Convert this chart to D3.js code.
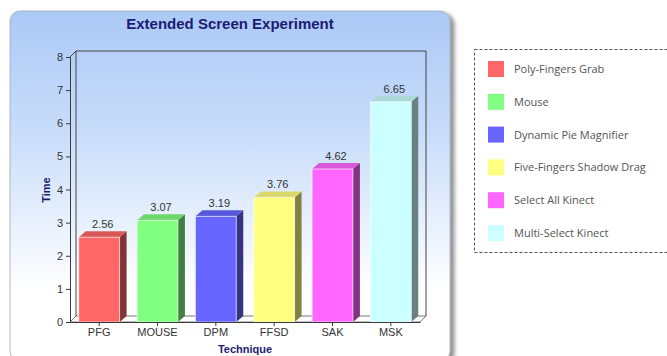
<!DOCTYPE html>
<html>
<head>
<meta charset="utf-8">
<script src="https://cdn.jsdelivr.net/npm/d3@7/dist/d3.min.js"></script>
<style>
  html, body { margin: 0; padding: 0; background: #fff; }
  svg { display: block; }
</style>
</head>
<body>
<svg id="chart" width="667" height="356"></svg>
<script>
// Chart data
const categories = ["PFG", "MOUSE", "DPM", "FFSD", "SAK", "MSK"];
const values = [2.56, 3.07, 3.19, 3.76, 4.62, 6.65];
const legendNames = ["Poly-Fingers Grab", "Mouse", "Dynamic Pie Magnifier",
                     "Five-Fingers Shadow Drag", "Select All Kinect", "Multi-Select Kinect"];
const frontColors = ["#ff6666", "#80ff80", "#6666ff", "#ffff80", "#ff66ff", "#ccffff"];
const yTicks = [0, 1, 2, 3, 4, 5, 6, 7, 8];

const svg = d3.select("#chart");
const defs = svg.append("defs");

// Panel background gradient and drop shadow
const grad = defs.append("linearGradient").attr("id", "panelGrad")
  .attr("x1", 0).attr("y1", 0).attr("x2", 0).attr("y2", 1);
grad.append("stop").attr("offset", "0%").attr("stop-color", "#abc9f6");
grad.append("stop").attr("offset", "35%").attr("stop-color", "#c9ddfa");
grad.append("stop").attr("offset", "80%").attr("stop-color", "#ffffff");
grad.append("stop").attr("offset", "100%").attr("stop-color", "#ffffff");

const shadow = defs.append("filter").attr("id", "shadow")
  .attr("x", "-5%").attr("y", "-5%").attr("width", "115%").attr("height", "115%");
shadow.append("feGaussianBlur").attr("in", "SourceAlpha").attr("stdDeviation", 2);
shadow.append("feOffset").attr("dx", 4).attr("dy", 3).attr("result", "off");
shadow.append("feComponentTransfer").append("feFuncA").attr("type", "linear").attr("slope", 0.45);
const merge = shadow.append("feMerge");
merge.append("feMergeNode");
merge.append("feMergeNode").attr("in", "SourceGraphic");

svg.append("rect")
  .attr("x", 10).attr("y", 11).attr("width", 440).attr("height", 350)
  .attr("rx", 10).attr("ry", 10)
  .attr("fill", "url(#panelGrad)")
  .attr("stroke", "#9fa9b8").attr("stroke-width", 0.8)
  .attr("filter", "url(#shadow)");

// Title
svg.append("text")
  .attr("x", 230).attr("y", 29)
  .attr("text-anchor", "middle")
  .attr("font-family", "Liberation Sans, Arial, sans-serif")
  .attr("font-size", 15).attr("font-weight", "bold")
  .attr("fill", "#1b1b72")
  .text("Extended Screen Experiment");

// Plot geometry (front plane) and 3D depth
const plotLeft = 70, plotRight = 420, plotBottom = 322, plotTop = 57;
const depthX = 6, depthY = -6;
const barDX = 7, barDY = -6;

const x = d3.scaleBand().domain(categories).range([plotLeft, plotRight]).paddingInner(0.3).paddingOuter(0.15);
const y = d3.scaleLinear().domain([0, 8]).range([plotBottom, plotTop]);

const g = svg.append("g");
const axisColor = "#3a3a3a";

// Floor
g.append("path")
  .attr("d", `M${plotLeft},${plotBottom} L${plotRight},${plotBottom} L${plotRight + depthX},${plotBottom + depthY} L${plotLeft + depthX},${plotBottom + depthY} Z`)
  .attr("fill", "#ffffff").attr("stroke", "#555").attr("stroke-width", 0.8);

// Back wall frame
g.append("path")
  .attr("d", `M${plotLeft + depthX},${plotBottom + depthY} L${plotLeft + depthX},${plotTop + depthY} L${plotRight + depthX},${plotTop + depthY} L${plotRight + depthX},${plotBottom + depthY}`)
  .attr("fill", "none").attr("stroke", "#444").attr("stroke-width", 1);
g.append("line")
  .attr("x1", plotLeft).attr("y1", plotTop).attr("x2", plotLeft + depthX).attr("y2", plotTop + depthY)
  .attr("stroke", "#444").attr("stroke-width", 1);

// Bars (front, side, top faces)
const bars = g.selectAll("g.bar").data(categories).enter().append("g").attr("class", "bar");
bars.each(function(c, i) {
  const sel = d3.select(this);
  const x0 = x(c), w = x.bandwidth(), y0 = y(values[i]), y1 = y(0);
  const base = d3.color(frontColors[i]);
  const side = base.darker(1.9);
  const topC = base.darker(0.45);
  sel.append("path")
    .attr("d", `M${x0 + w},${y1} L${x0 + w},${y0} L${x0 + w + barDX},${y0 + barDY} L${x0 + w + barDX},${y1 + barDY} Z`)
    .attr("fill", side);
  sel.append("path")
    .attr("d", `M${x0},${y0} L${x0 + barDX},${y0 + barDY} L${x0 + w + barDX},${y0 + barDY} L${x0 + w},${y0} Z`)
    .attr("fill", topC);
  sel.append("rect")
    .attr("x", x0).attr("y", y0).attr("width", w).attr("height", y1 - y0)
    .attr("fill", base).attr("stroke", "rgba(255,255,255,0.6)").attr("stroke-width", 1);
  sel.append("text")
    .attr("x", x0 + w / 2 + barDX / 2).attr("y", y0 + barDY - 3)
    .attr("text-anchor", "middle")
    .attr("font-family", "Liberation Sans, Arial, sans-serif")
    .attr("font-size", 11).attr("fill", "#333")
    .text(values[i].toFixed(2));
});

// Y axis
const yAxis = d3.axisLeft(y).tickValues(yTicks).tickSize(4).tickPadding(3).tickFormat(d3.format("d"));
const ya = g.append("g").attr("transform", `translate(${plotLeft},0)`).call(yAxis);
ya.select(".domain").attr("stroke", axisColor);
ya.selectAll(".tick line").attr("stroke", axisColor);
ya.selectAll(".tick text")
  .attr("font-family", "Liberation Sans, Arial, sans-serif")
  .attr("font-size", 11).attr("fill", "#333");

// X axis
const xAxis = d3.axisBottom(x).tickSize(4).tickPadding(2).tickSizeOuter(0);
const xa = g.append("g").attr("transform", `translate(0,${plotBottom})`).call(xAxis);
xa.select(".domain").attr("stroke", axisColor);
xa.selectAll(".tick line").attr("stroke", axisColor);
xa.selectAll(".tick text")
  .attr("font-family", "Liberation Sans, Arial, sans-serif")
  .attr("font-size", 11).attr("fill", "#333");

// Axis titles
svg.append("text")
  .attr("transform", "translate(50,190) rotate(-90)")
  .attr("text-anchor", "middle")
  .attr("font-family", "Liberation Sans, Arial, sans-serif")
  .attr("font-size", 11).attr("font-weight", "bold")
  .attr("fill", "#1b1b72")
  .text("Time");
svg.append("text")
  .attr("x", 245).attr("y", 353)
  .attr("text-anchor", "middle")
  .attr("font-family", "Liberation Sans, Arial, sans-serif")
  .attr("font-size", 11).attr("font-weight", "bold")
  .attr("fill", "#1b1b72")
  .text("Technique");

// Legend
svg.append("rect")
  .attr("x", 474.5).attr("y", 49.5).attr("width", 200).attr("height", 203)
  .attr("fill", "#fff").attr("stroke", "#555").attr("stroke-width", 1)
  .attr("stroke-dasharray", "3,2");
const ly = d3.scalePoint().domain(legendNames).range([69, 233]);
const items = svg.selectAll("g.legend").data(legendNames).enter().append("g").attr("class", "legend")
  .attr("transform", d => `translate(488,${ly(d)})`);
items.append("rect")
  .attr("x", 0).attr("y", -8).attr("width", 16).attr("height", 16)
  .attr("fill", (d, i) => frontColors[i]);
items.append("text")
  .attr("x", 26).attr("y", 4)
  .attr("font-family", "Open Sans, sans-serif")
  .attr("font-size", 11).attr("fill", "#555")
  .text(d => d);
</script>
</body>
</html>
